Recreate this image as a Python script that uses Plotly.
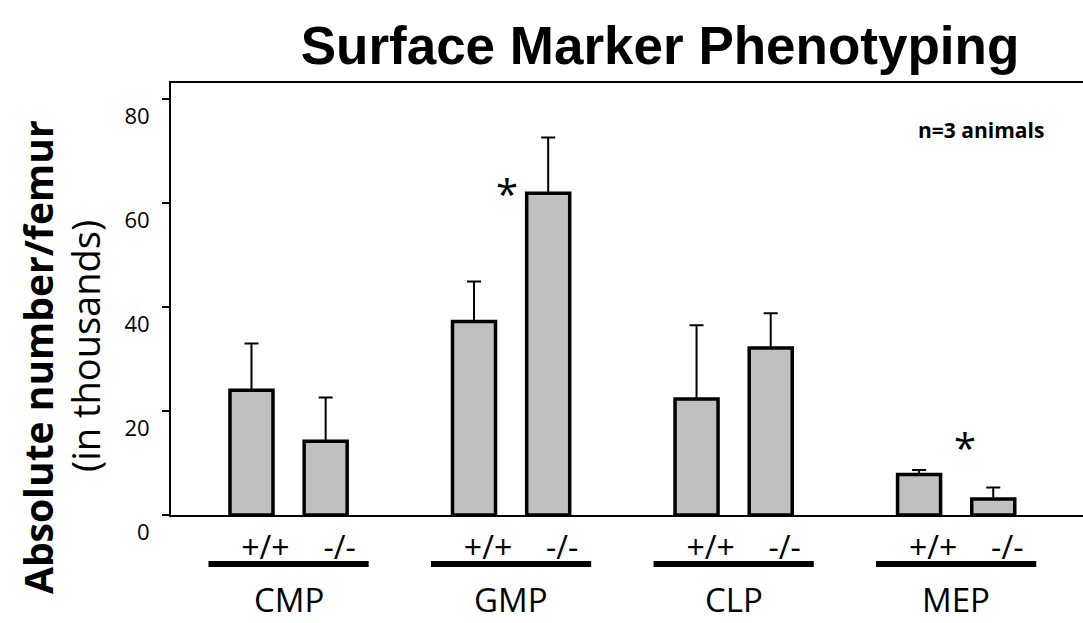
import plotly.graph_objects as go

# Progenitor populations and genotypes
groups = ["CMP", "GMP", "CLP", "MEP"]
genotypes = ["+/+", "-/-"]

# Absolute number per femur (thousands): mean and upper error
wt_mean = [24.0, 37.2, 22.3, 7.8]
wt_err = [9.0, 7.7, 14.2, 0.85]
ko_mean = [14.2, 61.9, 32.1, 3.1]
ko_err = [8.4, 10.7, 6.7, 2.2]

y_ticks = [0, 20, 40, 60, 80]

# significance markers: (group index, position relative to the group's first bar)
stars = [(1, 0.45), (3, 0.62)]
star_height = [63.3, 14.5]

W, H = 1083, 623
ML, MR, MT, MB = 171, 0, 83, 108
PW, PH = W - ML - MR, H - MT - MB

STEP = 3  # x distance between groups (bars sit at 0 and 1 within a group)
x_wt = [g * STEP for g in range(len(groups))]
x_ko = [g * STEP + 1 for g in range(len(groups))]
x_center = [g * STEP + 0.5 for g in range(len(groups))]


def px_x(p):
    return (p - ML) / PW


def px_y(p):
    return (H - MB - p) / PH


FONT = "Open Sans, DejaVu Sans, sans-serif"

fig = go.Figure()
for xs, means, errs, name in [(x_wt, wt_mean, wt_err, genotypes[0]),
                              (x_ko, ko_mean, ko_err, genotypes[1])]:
    fig.add_trace(go.Bar(
        x=xs, y=means, name=name, width=0.58,
        marker=dict(color="#c0c0c0", line=dict(color="black", width=3.5)),
        error_y=dict(type="data", symmetric=False, array=errs,
                     arrayminus=[0] * len(errs), color="black",
                     thickness=2, width=7),
        showlegend=False,
    ))

tick_pos = sorted(x_wt + x_ko)
tick_txt = [genotypes[0] if p in x_wt else genotypes[1] for p in tick_pos]

fig.update_layout(
    width=W, height=H,
    margin=dict(l=ML, r=MR, t=MT, b=MB),
    plot_bgcolor="white", paper_bgcolor="white",
    barmode="overlay",
    title=dict(text="<b>Surface Marker Phenotyping</b>",
               font=dict(family="Liberation Sans, Arial, sans-serif", size=53, color="black"),
               xref="container", yref="container",
               x=660 / W, y=1 - 45 / H, xanchor="center", yanchor="middle"),
    xaxis=dict(range=[-1.085, 11.21], showline=True, linecolor="black", linewidth=2,
               mirror=True, ticks="", showgrid=False, zeroline=False,
               tickvals=tick_pos, ticktext=tick_txt,
               tickfont=dict(family=FONT, size=32, color="black"),
               ticklabelshift=14, ticklabelstandoff=4),
    yaxis=dict(range=[0, 83.08], showline=True, linecolor="black", linewidth=2,
               ticks="outside", ticklen=7, tickwidth=2, tickcolor="black",
               tickvals=y_ticks, showgrid=False, zeroline=False,
               tickfont=dict(family=FONT, size=22, color="black"),
               ticklabelshift=17, ticklabelstandoff=8),
)

annotations = []
shapes = []
for g, name in enumerate(groups):
    c = x_center[g]
    shapes.append(dict(type="line", xref="x", yref="paper",
                       x0=c - 1.08, x1=c + 1.08, y0=px_y(564), y1=px_y(564),
                       line=dict(color="black", width=6)))
    annotations.append(dict(text=name, x=c, y=px_y(599), xref="x", yref="paper",
                            showarrow=False, xanchor="center", yanchor="middle",
                            font=dict(family=FONT, size=33, color="black")))

for (g, dx), yv in zip(stars, star_height):
    annotations.append(dict(text="*", x=g * STEP + dx, y=yv, xref="x", yref="y",
                            showarrow=False, xanchor="center", yanchor="middle",
                            yshift=-8,
                            font=dict(family=FONT, size=40, color="black")))

annotations.append(dict(text="<b>n=3 animals</b>", x=px_x(981), y=px_y(130),
                        xref="paper", yref="paper", showarrow=False,
                        xanchor="center", yanchor="middle",
                        font=dict(family=FONT, size=21, color="black")))

annotations.append(dict(text="<b>Absolute number/femur</b>", x=px_x(37), y=px_y(357),
                        xref="paper", yref="paper", showarrow=False, textangle=-90,
                        xanchor="center", yanchor="middle",
                        font=dict(family=FONT, size=39, color="black")))
annotations.append(dict(text="(in thousands)", x=px_x(85), y=px_y(346),
                        xref="paper", yref="paper", showarrow=False, textangle=-90,
                        xanchor="center", yanchor="middle",
                        font=dict(family=FONT, size=38, color="black")))

fig.update_layout(annotations=annotations, shapes=shapes)
fig.write_html("out.html")
